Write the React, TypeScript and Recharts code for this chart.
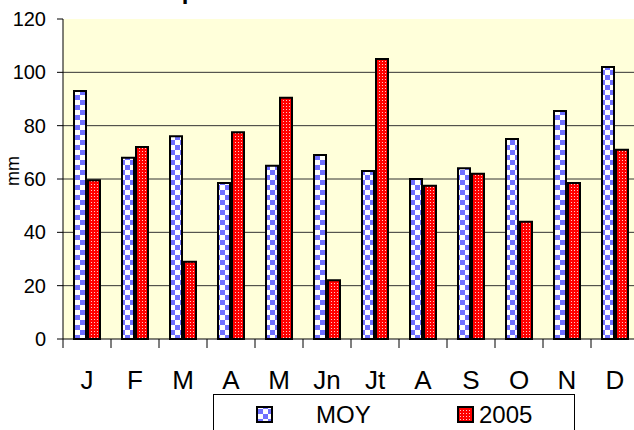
import React from 'react';
import { BarChart, Bar, XAxis, YAxis, CartesianGrid } from 'recharts';

const months = ['J', 'F', 'M', 'A', 'M', 'Jn', 'Jt', 'A', 'S', 'O', 'N', 'D'];
const moy = [93, 68, 76, 58.5, 65, 69, 63, 60, 64, 75, 85.5, 102];
const y2005 = [59.5, 72, 29, 77.5, 90.5, 22, 105, 57.5, 62, 44, 58.5, 71];
const yTicks = [0, 20, 40, 60, 80, 100, 120];
const gridValues = [20, 40, 60, 80, 100];
const seriesNames = ['MOY', '2005'];

const data = months.map((m, i) => ({ key: i, month: m, moy: moy[i], y2005: y2005[i] }));

const FONT = 'Arial, "Liberation Sans", sans-serif';

const Patterns = ({ p }: { p: string }) => (
  <defs>
    <pattern id={`${p}moy`} width={10} height={10} patternUnits="userSpaceOnUse">
      <rect width={10} height={10} fill="#ffffff" />
      <rect width={5} height={5} fill="#7070FF" />
      <rect x={5} y={5} width={5} height={5} fill="#7070FF" />
    </pattern>
    <pattern id={`${p}red`} width={3} height={3} patternUnits="userSpaceOnUse">
      <rect width={3} height={3} fill="#FF0000" />
      <rect x={1} y={1} width={1} height={1} fill="#FFC8C8" />
    </pattern>
  </defs>
);

const TICK_SIZE = 9;
const TICK_MARGIN = 23;

const XTick = (props: any) => {
  const { x, y, payload, index, visibleTicksCount } = props;
  const off = payload && payload.offset ? payload.offset : 24;
  const axisY = y - TICK_SIZE - TICK_MARGIN;
  return (
    <g>
      <line x1={x - off} x2={x - off} y1={axisY} y2={axisY + TICK_SIZE} stroke="#000" strokeWidth={1} />
      {index === visibleTicksCount - 1 && (
        <line x1={x + off} x2={x + off} y1={axisY} y2={axisY + TICK_SIZE} stroke="#000" strokeWidth={1} />
      )}
      <text x={x} y={y} dy="0.71em" textAnchor="middle" fontSize={26} fontFamily={FONT} fill="#000">
        {months[payload.value]}
      </text>
    </g>
  );
};

const YLabel = (props: any) => {
  const vb = props.viewBox || { x: 0, y: 19, width: 63, height: 320 };
  const cx = vb.x + 19;
  const cy = vb.y + vb.height / 2 - 8;
  return (
    <text x={cx} y={cy} textAnchor="middle" fontSize={18} fontFamily={FONT} fill="#000" transform={`rotate(-90 ${cx} ${cy})`}>
      mm
    </text>
  );
};

const Legend = () => (
  <svg width={362} height={40} style={{ position: 'absolute', left: 213, top: 394 }}>
    <Patterns p="lg" />
    <rect x={0.5} y={0.5} width={361} height={45} fill="#fff" stroke="#000" strokeWidth={1} />
    <rect x={44} y={13} width={15} height={15} fill="url(#lgmoy)" stroke="#000" strokeWidth={2} />
    <text x={103} y={29} fontSize={24} fontFamily={FONT} fill="#000">{seriesNames[0]}</text>
    <rect x={245} y={13} width={15} height={15} fill="url(#lgred)" stroke="#000" strokeWidth={2} />
    <text x={266} y={29} fontSize={24} fontFamily={FONT} fill="#000">{seriesNames[1]}</text>
  </svg>
);

export default function App() {
  return (
    <div style={{ position: 'fixed', left: 0, top: 0, width: 634, height: 430, overflow: 'hidden', background: '#fff' }}>
      <div style={{ position: 'absolute', left: 123, top: -23, fontFamily: FONT, fontWeight: 'bold', fontSize: 24, lineHeight: '28px', whiteSpace: 'nowrap' }}>
        Précipitations
      </div>
      <BarChart
        width={660}
        height={430}
        data={data}
        margin={{ top: 19, right: 21, bottom: 0, left: 0 }}
        barSize={12}
        barGap={2}
      >
        <Patterns p="ch" />
        <CartesianGrid
          vertical={false}
          horizontalValues={gridValues}
          stroke="#333"
          strokeWidth={1}
          fill="#FFFFDA"
          fillOpacity={1}
        />
        <XAxis
          dataKey="key"
          type="category"
          height={91}
          axisLine={{ stroke: '#000', strokeWidth: 1 }}
          tickLine={false}
          tickSize={TICK_SIZE}
          tickMargin={TICK_MARGIN}
          tick={<XTick />}
          interval={0}
        />
        <YAxis
          width={63}
          domain={[0, 120]}
          ticks={yTicks}
          interval={0}
          axisLine={{ stroke: '#000', strokeWidth: 1 }}
          tickLine={{ stroke: '#000', strokeWidth: 1 }}
          tickSize={6}
          tickMargin={11}
          tick={{ fontSize: 20, fontFamily: FONT, fill: '#000' }}
          label={<YLabel />}
        />
        <Bar dataKey="moy" name={seriesNames[0]} fill="url(#chmoy)" stroke="#000" strokeWidth={2} isAnimationActive={false} />
        <Bar dataKey="y2005" name={seriesNames[1]} fill="url(#chred)" stroke="#000" strokeWidth={2} isAnimationActive={false} />
      </BarChart>
      <Legend />
    </div>
  );
}
